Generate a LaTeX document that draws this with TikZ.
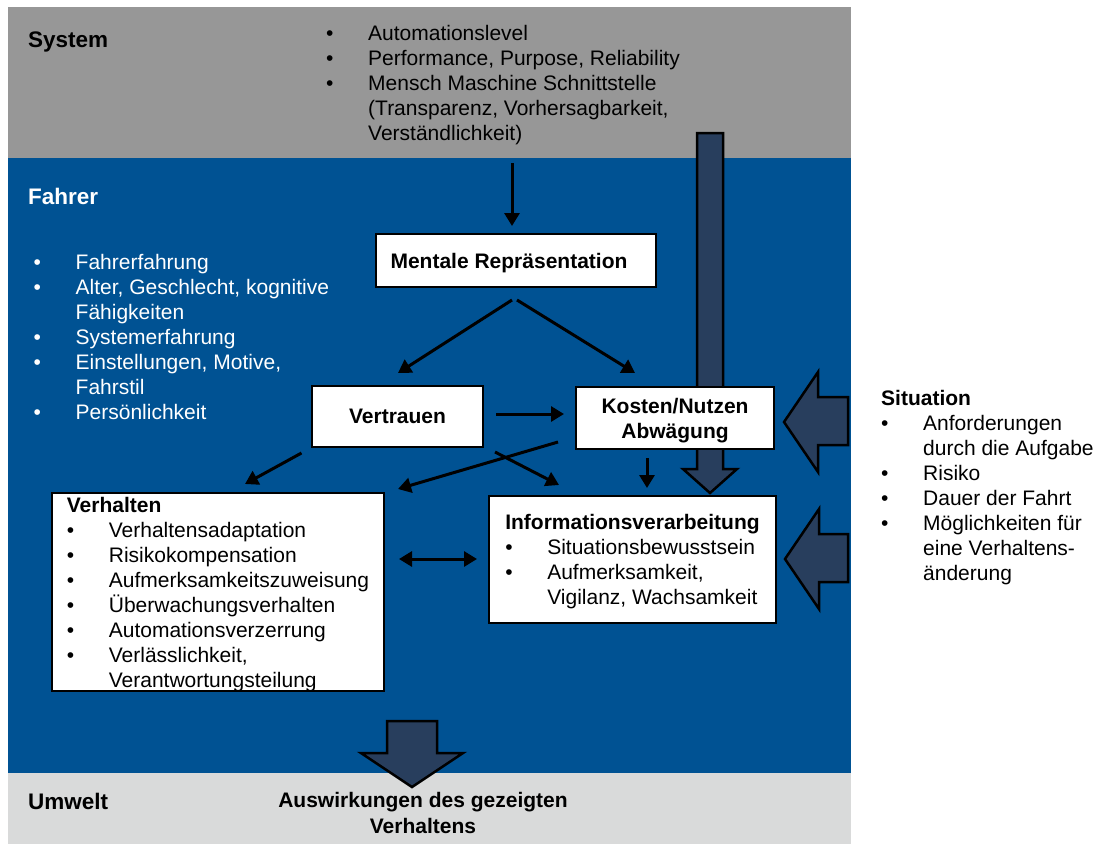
\documentclass[tikz,border=0pt]{standalone}
\usepackage{fontspec}
\setmainfont{Liberation Sans}
\usetikzlibrary{arrows.meta}
\definecolor{sysgray}{RGB}{151,151,151}
\definecolor{drvblue}{RGB}{0,82,147}
\definecolor{envgray}{RGB}{217,218,218}
\definecolor{blockfill}{RGB}{40,62,93}
% bullet item and continuation line with a fixed tab
\newcommand\bul[1]{\makebox[42pt][l]{\textbullet}#1}
\newcommand\ind[1]{\hspace*{42pt}#1}
\begin{document}
\begin{tikzpicture}[x=1pt,y=-1pt,
  txt/.style={font=\fontsize{21}{25}\selectfont, inner sep=0pt, align=left, anchor=north west},
  head/.style={font=\fontsize{22.5}{27}\selectfont\bfseries, inner sep=0pt, anchor=base west},
  box/.style={draw=black, line width=2pt, fill=white, font=\fontsize{21}{25}\selectfont, inner sep=0pt, align=center},
  arr/.style={line width=3pt, -{Triangle[length=13pt,width=15pt]}},
  dbl/.style={line width=3pt, {Triangle[length=13pt,width=15pt]}-{Triangle[length=13pt,width=15pt]}},
  block/.style={draw=black, line width=2.5pt, fill=blockfill, line join=miter}
]
\path[use as bounding box] (0,0) rectangle (1097,844);
\fill[white] (0,0) rectangle (1097,844);

% layers: system, driver, environment
\fill[sysgray] (8,7) rectangle (851,158);
\fill[drvblue] (8,158) rectangle (851,773);
\fill[envgray] (8,773) rectangle (851,844);

% block arrows
\draw[block] (697,133) -- (723,133) -- (723,469) -- (737,469) -- (710,493) -- (683,469) -- (697,469) -- cycle;
\draw[block] (848,397) -- (818,397) -- (818,372) -- (784,422) -- (818,472) -- (818,445) -- (848,445) -- cycle;
\draw[block] (848,534) -- (819,534) -- (819,509) -- (785,559) -- (819,609) -- (819,582) -- (848,582) -- cycle;
\draw[block] (387,721) -- (437,721) -- (437,753) -- (463,753) -- (412,787) -- (361,753) -- (387,753) -- cycle;

% layer headings
\node[head] (system) at (28,47.5) {System};
\node[head,text=white] (fahrer) at (28,204) {Fahrer};
\node[head] (umwelt) at (28,809) {Umwelt};

% lists
\node[txt] (syslist) at (326,22.5) {\strut\bul{Automationslevel}\\
  \bul{Performance, Purpose, Reliability}\\
  \bul{Mensch Maschine Schnittstelle}\\
  \ind{(Transparenz, Vorhersagbarkeit,}\\
  \ind{Verständlichkeit)}};
\node[txt,text=white] (drvlist) at (33.5,251.5) {\strut\bul{Fahrerfahrung}\\
  \bul{Alter, Geschlecht, kognitive}\\
  \ind{Fähigkeiten}\\
  \bul{Systemerfahrung}\\
  \bul{Einstellungen, Motive,}\\
  \ind{Fahrstil}\\
  \bul{Persönlichkeit}};
\node[txt] (situation) at (881,388) {\strut\textbf{Situation}\\
  \bul{Anforderungen}\\
  \ind{durch die Aufgabe}\\
  \bul{Risiko}\\
  \bul{Dauer der Fahrt}\\
  \bul{Möglichkeiten für}\\
  \ind{eine Verhaltens-}\\
  \ind{änderung}};

% model boxes
\node[box, text depth=0pt, minimum width=280pt, minimum height=53pt] (mental) at (516,260.5) {\textbf{Mentale Repräsentation}\hspace*{14pt}};
\node[box, minimum width=171pt, minimum height=61pt] (vertrauen) at (397.5,416.5) {\textbf{Vertrauen}};
\node[box, minimum width=198pt, minimum height=62pt] (kosten) at (675,418) {\textbf{Kosten/Nutzen}\\\smash{\textbf{Abwägung}}};
\node[box, align=left, minimum width=287pt, minimum height=127pt] (info) at (632.5,559.5) {\textbf{Informationsverarbeitung}\\
  \bul{Situationsbewusstsein}\\
  \bul{Aufmerksamkeit,}\\
  \ind{\smash{Vigilanz, Wachsamkeit}}};
\node[box, align=left, minimum width=332pt, minimum height=198pt] (verhalten) at (218,592) {\textbf{Verhalten}\\
  \bul{Verhaltensadaptation}\\
  \bul{Risikokompensation}\\
  \bul{Aufmerksamkeitszuweisung}\\
  \bul{Überwachungsverhalten}\\
  \bul{Automationsverzerrung}\\
  \bul{Verlässlichkeit,}\\
  \ind{\smash{Verantwortungsteilung}}};

\node[font=\fontsize{21}{26}\selectfont\bfseries, align=center, inner sep=0pt, anchor=north] (effect) at (423,789.3) {\strut Auswirkungen des gezeigten\\ Verhaltens};

% connectors
\coordinate (sysfoot) at (512,163);
\draw[arr] (sysfoot) -- ([shift={(-4,-7)}]mental.north);
\draw[arr] ([shift={(-4,12)}]mental.south) -- ([shift={(0.5,-12)}]vertrauen.north);
\draw[arr] ([shift={(1,12)}]mental.south) -- ([shift={(-40,-13)}]kosten.north);
\draw[arr] ([shift={(12,-2.5)}]vertrauen.east) -- ([shift={(-11,-4)}]kosten.west);
\draw[arr] ([shift={(-17,24)}]kosten.west) -- ([shift={(13,-3)}]verhalten.north east);
\draw[arr] ([shift={(11,4)}]vertrauen.south east) -- ([shift={(71,-10)}]info.north west);
\draw[arr] ([shift={(-96,5)}]vertrauen.south) -- ([shift={(27,-8)}]verhalten.north);
\draw[arr] ([shift={(-28,8)}]kosten.south) -- ([shift={(14.5,-7)}]info.north);
\draw[dbl] ([shift={(14,-33)}]verhalten.east) -- ([shift={(-11,-0.5)}]info.west);
\end{tikzpicture}
\end{document}
